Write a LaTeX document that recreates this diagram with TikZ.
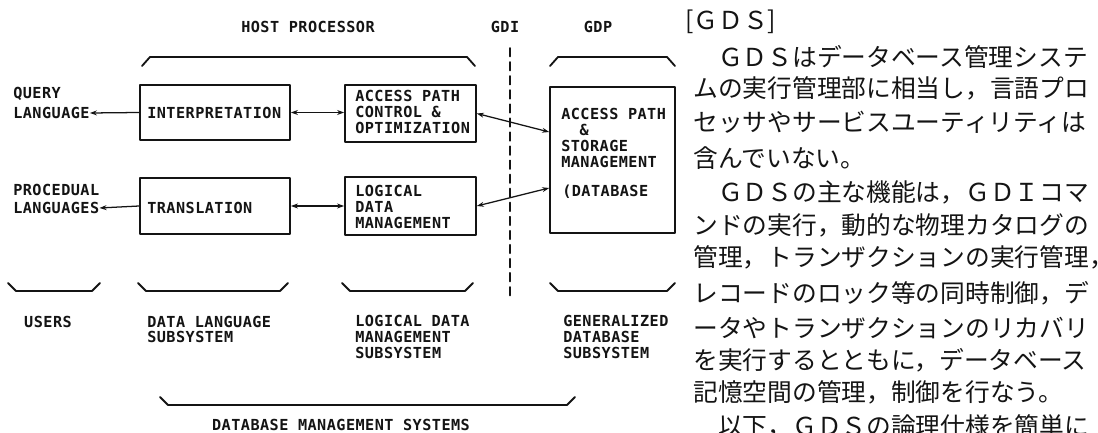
\documentclass[tikz,border=0pt]{standalone}
\usepackage{fontspec}
\usetikzlibrary{calc,arrows.meta}
\newfontfamily\boxfont[LetterSpace=3]{DejaVu Sans Mono}
\newfontfamily\jpfont{Noto Sans CJK JP}
\definecolor{ScanInk}{HTML}{141414}
\tikzset{
  box/.style={draw=ScanInk,line width=1.2pt,inner sep=0pt},
  txt/.style={inner sep=0pt,align=left,anchor=west,text=ScanInk},
  link/.style={draw=ScanInk,line width=.9pt,{Stealth[length=5pt,width=3.5pt]}-{Stealth[length=5pt,width=3.5pt]}},
  outlink/.style={draw=ScanInk,line width=.9pt,-{Stealth[length=5pt,width=3.5pt]}},
  brace/.style={draw=ScanInk,line width=1.3pt},
  gdiline/.style={draw=ScanInk,line width=1.3pt,dash pattern=on 6pt off 4pt},
  jp/.style={font=\jpfont\fontsize{17.6}{23}\selectfont,inner sep=0pt,anchor=west,text=ScanInk}
}

\begin{document}
\begin{tikzpicture}[x=.25mm,y=-.25mm,line cap=round,line join=round,font={\boxfont\fontsize{10.8}{11.3}\selectfont\bfseries}]
  \useasboundingbox[fill=white] (0,0) rectangle (1098,433);\clip (0,0) rectangle (1098,433);
  % headings and upper braces
  \node[text=ScanInk] (host) at (308,27) {HOST PROCESSOR};\node[text=ScanInk] (gdi) at (505,27) {GDI};\node[text=ScanInk] (gdp) at (598,27) {GDP};
  \draw[brace] (142,66)--(150,57)--(467,57)--(475,66) (550,66)--(558,57)--(667,57)--(675,66);
  \draw[gdiline] (510,48)--(510,300);
  % users
  \node[txt] (query) at (13,94) {QUERY};\node[txt] (querylang) at (13,113) {LANGUAGE};
  \node[txt] (proc) at (13,190) {PROCEDUAL};\node[txt] (proclang) at (13,208) {LANGUAGES};
  % data language subsystem
  \node[box,minimum width=37.5mm,minimum height=13.75mm] (interp) at (215,112.5) {};\node[txt] (interptxt) at (147,113) {INTERPRETATION};
  \node[box,minimum width=37.5mm,minimum height=14mm] (transl) at (215,206) {};\node[txt] (transltxt) at (147,208) {TRANSLATION};
  % logical data management subsystem
  \node[box,minimum width=32.75mm,minimum height=14.25mm] (apc) at (410.5,113.5) {};\node[txt] (apctxt) at (355,112) {ACCESS PATH\\CONTROL \&\\OPTIMIZATION};
  \node[box,minimum width=32.75mm,minimum height=14.5mm] (ldm) at (410.5,206) {};\node[txt] (ldmtxt) at (355,207) {LOGICAL\\DATA\\MANAGEMENT};
  % generalized database subsystem
  \node[box,minimum width=31.25mm,minimum height=36.5mm] (aps) at (612.5,160) {};
  \node[txt] (apstxt) at (561,138) {ACCESS PATH\\\hspace{13pt}\&\\STORAGE\\MANAGEMENT};\node[txt] (dbtxt) at (562,192) {(DATABASE};
  \draw[outlink] (interp.west)--(querylang.east);\draw[outlink] (transl.west)--(proclang.east);
  \draw[link] (interp.east)--(interp.east -| apc.west);\draw[link] (transl.east)--(transl.east -| ldm.west);
  \draw[link] (apc.east)--($(aps.west)+(0,-28)$);\draw[link] (ldm.east)--($(aps.west)+(0,28)$);
  % lower braces and subsystem names
  \draw[brace] (8,283)--(16,291)--(92,291)--(100,283) (138,283)--(146,291)--(280,291)--(288,283)
    (342,283)--(350,291)--(465,291)--(473,283) (550,283)--(558,291)--(667,291)--(675,283);
  \node[text=ScanInk] (users) at (48,322) {USERS};
  \node[txt] (dls) at (147,329.5) {DATA LANGUAGE\\SUBSYSTEM};
  \node[txt] (ldms) at (355,337) {LOGICAL DATA\\MANAGEMENT\\SUBSYSTEM};
  \node[txt] (gds) at (563,337) {GENERALIZED\\DATABASE\\SUBSYSTEM};
  \draw[brace] (160,397)--(168,405)--(567,405)--(575,397);
  \node[text=ScanInk] (dbms) at (341,425) {DATABASE MANAGEMENT SYSTEMS};
  % notes on the GDS
  \node[jp] (gdshead) at (685,22) {[ＧＤＳ]};
  \node[jp] (jp1) at (693,57) {　ＧＤＳはデータベース管理システ};
  \node[jp] (jp2) at (693,88) {ムの実行管理部に相当し，言語プロ};
  \node[jp] (jp3) at (693,122) {セッサやサービスユーティリティは};
  \node[jp] (jp4) at (693,158) {含んでいない。};
  \node[jp] (jp5) at (693,192) {　ＧＤＳの主な機能は，ＧＤＩコマ};
  \node[jp] (jp6) at (693,225) {ンドの実行，動的な物理カタログの};
  \node[jp] (jp7) at (693,257) {管理，トランザクションの実行管理，};
  \node[jp] (jp8) at (693,293) {レコードのロック等の同時制御，デ};
  \node[jp] (jp9) at (693,328) {ータやトランザクションのリカバリ};
  \node[jp] (jp10) at (693,360) {を実行するとともに，データベース};
  \node[jp] (jp11) at (693,392) {記憶空間の管理，制御を行なう。};
  \node[jp] (jp12) at (693,426) {　以下，ＧＤＳの論理仕様を簡単に};
\end{tikzpicture}
\end{document}
